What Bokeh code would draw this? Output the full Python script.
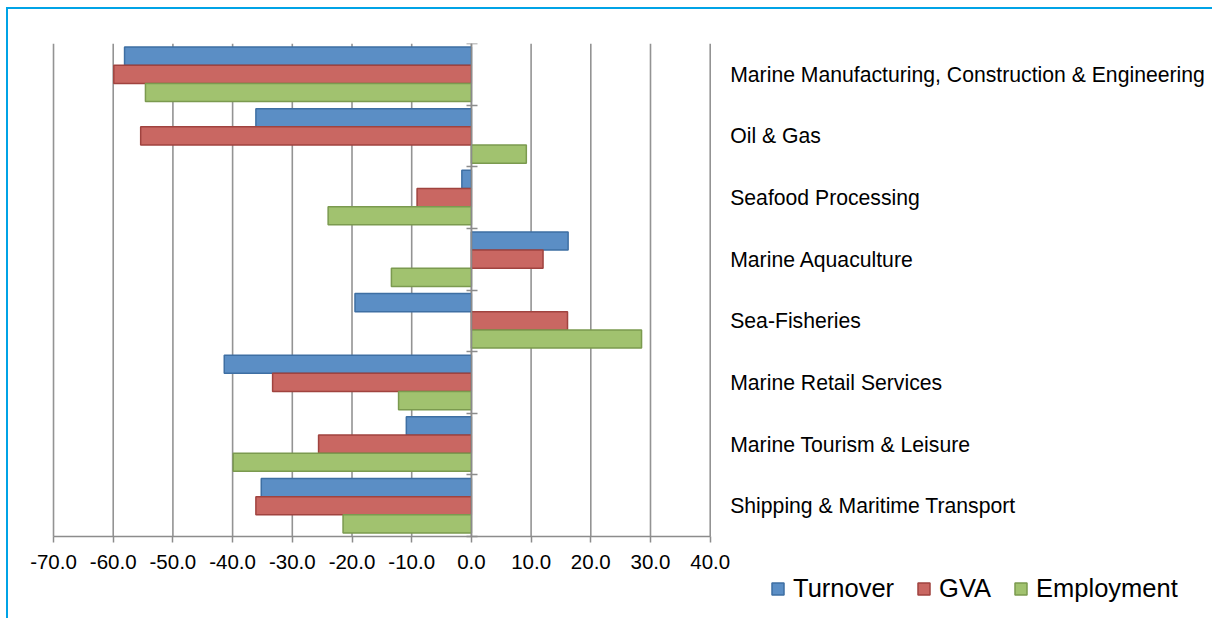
from bokeh.plotting import figure
from bokeh.models import (ColumnDataSource, Range1d, FixedTicker, LinearAxis,
                          Legend, LegendItem, NumeralTickFormatter)
from bokeh.embed import file_html
from bokeh.resources import INLINE

categories = [
    "Marine Manufacturing, Construction & Engineering",
    "Oil & Gas",
    "Seafood Processing",
    "Marine Aquaculture",
    "Sea-Fisheries",
    "Marine Retail Services",
    "Marine Tourism & Leisure",
    "Shipping & Maritime Transport",
]
turnover = [-58.1, -36.1, -1.6, 16.2, -19.5, -41.4, -10.9, -35.2]
gva = [-59.9, -55.4, -9.1, 12.0, 16.1, -33.3, -25.6, -36.1]
employment = [-54.6, 9.2, -24.0, -13.4, 28.5, -12.2, -39.9, -21.5]
series_names = ["Turnover", "GVA", "Employment"]
x_ticks = [-70, -60, -50, -40, -30, -20, -10, 0, 10, 20, 30, 40]

fills = ["#5B8EC5", "#C96762", "#A1C26F"]
lines = ["#3E6FA3", "#A0433F", "#7B9A4F"]
GRID = "#939393"

n = len(categories)
bar_h = 0.295
centers = [i + 0.5 for i in range(n)]
x_min, x_max = x_ticks[0], x_ticks[-1]

# The frame spans the whole canvas so that legend and labels (drawn via
# fixed-location axes) sit at the reference positions without clipping.
p = figure(width=1206, height=611, frame_width=1204, frame_height=575,
           output_backend="svg", toolbar_location=None,
           x_range=Range1d(-77.54, 124.14), y_range=Range1d(9.33, 0),
           x_axis_location=None, y_axis_location=None,
           min_border_left=0, min_border_top=34, min_border_right=0,
           min_border_bottom=0)
p.outline_line_color = None
p.background_fill_color = "white"
p.border_fill_color = "white"
p.xgrid.grid_line_color = None
p.ygrid.grid_line_color = None
p.styles = {"margin-left": "6px", "margin-top": "7px",
            "border-top": "2px solid #00A3E6", "border-left": "2px solid #00A3E6"}

# vertical grid lines at the value ticks, spanning the category band
p.segment(x0=x_ticks, y0=[0] * len(x_ticks), x1=x_ticks, y1=[n] * len(x_ticks),
          line_color=GRID, line_width=1.6)

# value axis at the bottom of the category band
xaxis = LinearAxis(fixed_location=n, bounds=(x_min, x_max),
                   ticker=FixedTicker(ticks=x_ticks),
                   formatter=NumeralTickFormatter(format="0.0"),
                   axis_line_color="#8C8C8C", axis_line_width=1.5,
                   major_tick_line_color="#8C8C8C", major_tick_line_width=1.5,
                   major_tick_out=6, major_tick_in=0, minor_tick_line_color=None,
                   major_label_text_font="Liberation Sans",
                   major_label_text_font_size="20.5px",
                   major_label_text_color="black", major_label_standoff=12)
p.add_layout(xaxis, "below")

# category labels to the right of the value range
cat_axis = LinearAxis(fixed_location=x_max, ticker=FixedTicker(ticks=centers),
                      major_label_overrides={c: name for c, name in zip(centers, categories)},
                      axis_line_color=None, major_tick_line_color=None,
                      major_tick_out=0, major_tick_in=0,
                      minor_tick_line_color=None,
                      major_label_text_font="Liberation Sans",
                      major_label_text_font_size="21.2px",
                      major_label_text_color="black", major_label_standoff=20)
p.add_layout(cat_axis, "right")

# zero axis with category boundary ticks
bounds = list(range(n + 1))
zero_axis = LinearAxis(fixed_location=0, bounds=(0, n), ticker=FixedTicker(ticks=bounds),
                       major_label_overrides={b: "" for b in bounds},
                       axis_line_color="#8C8C8C", axis_line_width=1.5,
                       major_tick_line_color="#8C8C8C", major_tick_line_width=1.5,
                       major_tick_in=6, major_tick_out=5,
                       minor_tick_line_color=None)
p.add_layout(zero_axis, "left")

renderers = []
for k, vals in enumerate([turnover, gva, employment]):
    ys = [c + (k - 1) * bar_h for c in centers]
    src = ColumnDataSource(dict(y=ys, right=vals, left=[0] * n))
    r = p.hbar(y="y", left="left", right="right", height=bar_h, source=src,
               fill_color=fills[k], line_color=lines[k], line_width=1.5)
    renderers.append(r)

legend = Legend(items=[LegendItem(label=s, renderers=[r]) for s, r in zip(series_names, renderers)],
                location=(762, 15), orientation="horizontal",
                glyph_width=15, glyph_height=15, label_standoff=8, spacing=22,
                padding=0, margin=0, border_line_color=None, background_fill_alpha=0,
                label_text_font="Liberation Sans", label_text_font_size="25.5px",
                label_text_color="black")
p.add_layout(legend)

open("out.html", "w").write(file_html(p, INLINE))
